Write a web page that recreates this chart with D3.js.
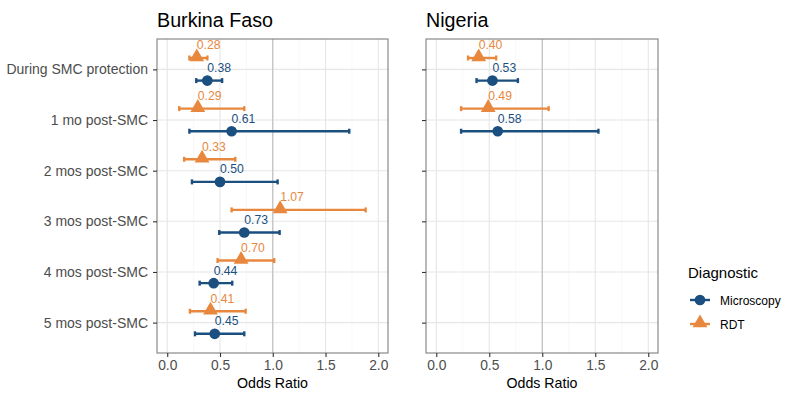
<!DOCTYPE html>
<html><head><meta charset="utf-8">
<script src="https://cdn.jsdelivr.net/npm/d3@7"></script>
<style>body{margin:0;background:#fff}svg{display:block;font-family:"Liberation Sans",Arial,sans-serif}</style>
</head><body><svg id="c" width="790" height="409"></svg>
<script>
const categories = ["During SMC protection","1 mo post-SMC","2 mos post-SMC","3 mos post-SMC","4 mos post-SMC","5 mos post-SMC"];
const panels = ["Burkina Faso","Nigeria"];
const diagnostics = ["Microscopy","RDT"];
const xTicks = [0,0.5,1,1.5,2];
const xMinor = [0.25,0.75,1.25,1.75];
// Burkina Faso
const bfMicroOR = [0.38,0.61,0.50,0.73,0.44,0.45];
const bfMicroLo = [0.275,0.21,0.234,0.493,0.307,0.263];
const bfMicroHi = [0.52,1.725,1.046,1.065,0.616,0.73];
const bfRdtOR = [0.28,0.29,0.33,1.07,0.70,0.41];
const bfRdtLo = [0.21,0.114,0.16,0.61,0.477,0.215];
const bfRdtHi = [0.38,0.73,0.645,1.88,1.014,0.743];
// Nigeria
const ngMicroOR = [0.53,0.58];
const ngMicroLo = [0.38,0.234];
const ngMicroHi = [0.77,1.53];
const ngRdtOR = [0.40,0.49];
const ngRdtLo = [0.30,0.234];
const ngRdtHi = [0.565,1.06];

const colors = {Microscopy:"#1b4f7f", RDT:"#e8883e"};

function rows(panel, diag, or, lo, hi){
  return or.map((v,i)=>({panel, diag, cat:categories[i], or:v, lo:lo[i], hi:hi[i]}));
}
const data = {
  "Burkina Faso": rows("Burkina Faso","Microscopy",bfMicroOR,bfMicroLo,bfMicroHi).concat(rows("Burkina Faso","RDT",bfRdtOR,bfRdtLo,bfRdtHi)),
  "Nigeria": rows("Nigeria","Microscopy",ngMicroOR,ngMicroLo,ngMicroHi).concat(rows("Nigeria","RDT",ngRdtOR,ngRdtLo,ngRdtHi))
};

const svg = d3.select("#c");
const pTop = 39, pBottom = 353;
const panelX = {"Burkina Faso":[157,388], "Nigeria":[426,658]};
const y = d3.scalePoint().domain(categories).range([pTop,pBottom]).padding(0.6);
const dodge = {Microscopy: 11.2, RDT: -11.4};
const sym = {Microscopy: d3.symbol().type(d3.symbolCircle).size(90), RDT: d3.symbol().type(d3.symbolTriangle).size(95)};

panels.forEach((p,pi)=>{
  const [x0,x1] = panelX[p];
  const x = d3.scaleLinear().domain([-0.097,2.092]).range([x0,x1]);
  const g = svg.append("g");
  g.selectAll(".mn").data(xMinor).enter().append("line")
    .attr("x1",d=>x(d)).attr("x2",d=>x(d)).attr("y1",pTop).attr("y2",pBottom)
    .attr("stroke","#f3f3f3").attr("stroke-width",0.6);
  g.selectAll(".mj").data(xTicks).enter().append("line")
    .attr("x1",d=>x(d)).attr("x2",d=>x(d)).attr("y1",pTop).attr("y2",pBottom)
    .attr("stroke","#e6e6e6").attr("stroke-width",1.1);
  g.selectAll(".hy").data(categories).enter().append("line")
    .attr("x1",x0).attr("x2",x1).attr("y1",d=>y(d)).attr("y2",d=>y(d))
    .attr("stroke","#e6e6e6").attr("stroke-width",1.1);
  g.append("line").attr("x1",x(1)).attr("x2",x(1)).attr("y1",pTop).attr("y2",pBottom)
    .attr("stroke","#bdbdbd").attr("stroke-width",1.1);
  g.append("rect").attr("x",x0).attr("y",pTop).attr("width",x1-x0).attr("height",pBottom-pTop)
    .attr("fill","none").attr("stroke","#7f7f7f").attr("stroke-width",1.1);
  g.append("text").attr("x",x0).attr("y",27).text(p).attr("font-size",19.7).attr("fill","#000");
  const xa = g.append("g").attr("transform",`translate(0,${pBottom})`)
    .call(d3.axisBottom(x).tickValues(xTicks).tickFormat(d3.format(".1f")).tickSize(4).tickPadding(3.5));
  xa.select(".domain").remove();
  xa.selectAll("line").attr("stroke","#333").attr("stroke-width",1.1);
  xa.selectAll("text").attr("font-size",13.8).attr("fill","#4d4d4d").attr("font-family","Liberation Sans, Arial, sans-serif");
  g.append("text").attr("x",(x0+x1)/2).attr("y",388).attr("text-anchor","middle")
    .attr("font-size",14.2).attr("fill","#000").text("Odds Ratio");
  const ya = g.append("g").attr("transform",`translate(${x0},0)`)
    .call(d3.axisLeft(y).tickSize(4).tickPadding(5));
  ya.select(".domain").remove();
  ya.selectAll("line").attr("stroke","#333").attr("stroke-width",1.1);
  ya.selectAll("text").attr("font-size",14).attr("fill","#4d4d4d").attr("font-family","Liberation Sans, Arial, sans-serif");
  if(pi>0) ya.selectAll("text").remove();

  const d = data[p];
  const yy = r => y(r.cat)+dodge[r.diag];
  const eb = g.selectAll(".eb").data(d).enter().append("g");
  eb.append("line").attr("x1",r=>x(r.lo)).attr("x2",r=>x(r.hi)).attr("y1",yy).attr("y2",yy)
    .attr("stroke",r=>colors[r.diag]).attr("stroke-width",2.4);
  eb.append("line").attr("x1",r=>x(r.lo)).attr("x2",r=>x(r.lo)).attr("y1",r=>yy(r)-2.5).attr("y2",r=>yy(r)+2.5)
    .attr("stroke",r=>colors[r.diag]).attr("stroke-width",2.4);
  eb.append("line").attr("x1",r=>x(r.hi)).attr("x2",r=>x(r.hi)).attr("y1",r=>yy(r)-2.5).attr("y2",r=>yy(r)+2.5)
    .attr("stroke",r=>colors[r.diag]).attr("stroke-width",2.4);
  eb.append("path").attr("d",r=>sym[r.diag]()).attr("transform",r=>`translate(${x(r.or)},${yy(r)+(r.diag==="RDT"?-1:0)})`)
    .attr("fill",r=>colors[r.diag]);
  eb.append("text").attr("x",r=>x(r.or)).attr("y",r=>yy(r)-8.5)
    .attr("font-size",12.2).attr("fill",r=>colors[r.diag]).text(r=>r.or.toFixed(2));
});

const lg = svg.append("g");
lg.append("text").attr("x",688).attr("y",278).attr("font-size",15).attr("fill","#000").text("Diagnostic");
diagnostics.forEach((dg,i)=>{
  const cy = 300 + i*24;
  lg.append("line").attr("x1",690).attr("x2",710).attr("y1",cy).attr("y2",cy)
    .attr("stroke",colors[dg]).attr("stroke-width",2.4);
  lg.append("path").attr("d",sym[dg]()).attr("transform",`translate(700,${cy+(dg==="RDT"?-1:0)})`).attr("fill",colors[dg]);
  lg.append("text").attr("x",720).attr("y",cy+4.5).attr("font-size",12).attr("fill","#000").text(dg);
});
</script></body></html>
